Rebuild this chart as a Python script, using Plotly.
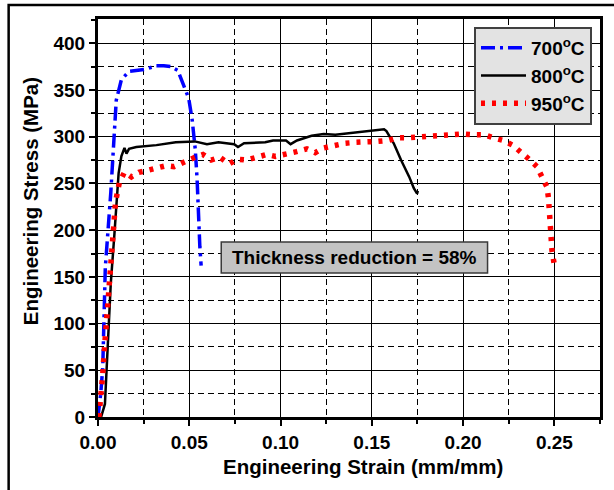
import plotly.graph_objects as go

# 700 °C
s700 = [0.0, 0.0015, 0.0026, 0.004, 0.007, 0.009, 0.010, 0.0128, 0.017, 0.0256, 0.032, 0.036, 0.040,
        0.0437, 0.047, 0.0497, 0.0516, 0.0533, 0.0543, 0.055, 0.0558, 0.0565]
t700 = [0, 25, 53, 160, 240, 307, 339, 361, 370, 372, 376, 376, 375,
        371, 354, 341, 318, 286, 254, 214, 182, 162]

# 800 °C
s800 = [0.0, 0.0017, 0.0038, 0.0053, 0.007, 0.009, 0.0107, 0.0113, 0.0128, 0.0145, 0.0156, 0.017,
        0.021, 0.032, 0.0426, 0.053, 0.0597, 0.066, 0.0746, 0.0767, 0.080, 0.0916, 0.0959, 0.103,
        0.1055, 0.109, 0.117, 0.1236, 0.130, 0.1385, 0.147, 0.1567, 0.158, 0.162, 0.166, 0.1705,
        0.173, 0.1748, 0.1752]
t800 = [0, 0, 14, 71, 143, 196, 239, 261, 279, 288, 282, 287,
        289, 291, 294, 295, 292, 294, 292, 289, 293, 294, 296, 296,
        292, 296, 301, 303, 302, 304, 306, 308, 306, 293, 275, 257,
        245, 239, 242]

# 950 °C
s950 = [0.0005, 0.0017, 0.0026, 0.0034, 0.0043, 0.0051, 0.0064, 0.0075, 0.0081, 0.009, 0.0096, 0.0117,
        0.0145, 0.0183, 0.0224, 0.0273, 0.0324, 0.0373, 0.0416, 0.0469, 0.052, 0.0575, 0.062, 0.0667,
        0.0718, 0.0763, 0.0814, 0.087, 0.0925, 0.0972, 0.1034, 0.1087, 0.1144, 0.119, 0.1236, 0.1294,
        0.1353, 0.1413, 0.147, 0.153, 0.1588, 0.1645, 0.1705, 0.176, 0.1822, 0.1882, 0.194, 0.1999,
        0.2059, 0.2118, 0.2163, 0.222, 0.2271, 0.2318, 0.2361, 0.2404, 0.2436, 0.246, 0.2468, 0.2472,
        0.2477, 0.2477, 0.2481, 0.2487, 0.2498]
t950 = [0, 21, 46, 70, 93, 125, 161, 184, 196, 218, 230, 251,
        262, 257, 262, 264, 267, 269, 268, 273, 277, 281, 275, 278,
        271, 276, 275, 278, 281, 279, 281, 284, 287, 283, 288, 291,
        293, 294, 294, 295, 296, 299, 299, 300, 301, 302, 302, 303,
        302, 302, 299, 296, 291, 284, 276, 268, 257, 246, 234, 223,
        211, 200, 189, 178, 165]

names = ["700<sup>o</sup>C", "800<sup>o</sup>C", "950<sup>o</sup>C"]
x_ticks = [0.0, 0.05, 0.10, 0.15, 0.20, 0.25]
y_ticks = [0, 50, 100, 150, 200, 250, 300, 350, 400]
x_title = "Engineering Strain (mm/mm)"
y_title = "Engineering Stress (MPa)"
note = "Thickness reduction = 58%"

FONT = "Liberation Sans, Arial, sans-serif"

fig = go.Figure()
fig.add_trace(go.Scatter(x=s700, y=t700, mode="lines", name=names[0],
                         line=dict(color="#0000ff", width=3.5, dash="14px,5px,3px,5px")))
fig.add_trace(go.Scatter(x=s800, y=t800, mode="lines", name=names[1],
                         line=dict(color="#000000", width=2.5)))
fig.add_trace(go.Scatter(x=s950, y=t950, mode="lines", name=names[2],
                         line=dict(color="#ff0000", width=5.5, dash="4px,7px")))

axis_common = dict(
    showline=True, linecolor="black", linewidth=3, mirror=True,
    ticks="outside", ticklen=6, tickwidth=2, tickcolor="black",
    showgrid=True, gridcolor="black", gridwidth=1.3,
    zeroline=False,
    tickfont=dict(family=FONT, size=19, color="black", weight="bold"),
)

fig.update_xaxes(
    range=[0, 0.275], tickvals=x_ticks, tickformat=".2f",
    minor=dict(dtick=0.025, tick0=0, ticks="outside", ticklen=4, tickwidth=1.5, tickcolor="black",
               showgrid=True, gridcolor="black", gridwidth=1, griddash="6px,4px"),
    **axis_common)
fig.update_yaxes(
    range=[0, 426], tickvals=y_ticks,
    minor=dict(dtick=25, tick0=0, ticks="outside", ticklen=4, tickwidth=1.5, tickcolor="black",
               showgrid=True, gridcolor="black", gridwidth=1, griddash="6px,4px"),
    **axis_common)

title_font = dict(family=FONT, size=20.5, color="black", weight="bold")
fig.add_annotation(xref="paper", yref="paper", x=0.527, y=-0.1256, text=x_title, showarrow=False,
                   xanchor="center", yanchor="middle", font=title_font)
fig.add_annotation(xref="paper", yref="paper", x=-0.1327, y=0.543, text=y_title, showarrow=False,
                   xanchor="center", yanchor="middle", textangle=-90, font=title_font)

# note box
fig.add_shape(type="rect", xref="paper", yref="paper", x0=0.2455, x1=0.776, y0=0.362, y1=0.44,
              fillcolor="#c3c3c3", line=dict(color="#3a3a3a", width=1.5), layer="above")
fig.add_annotation(xref="paper", yref="paper", x=0.511, y=0.401, text=note, showarrow=False,
                   xanchor="center", yanchor="middle",
                   font=dict(family=FONT, size=19, color="black", weight="bold"))

# outer frame
fig.add_shape(type="rect", xref="paper", yref="paper", x0=-0.178, x1=1.2, y0=-0.3, y1=1.035,
              line=dict(color="black", width=2.5), fillcolor="rgba(0,0,0,0)", layer="above")

fig.update_layout(
    width=614, height=490,
    margin=dict(l=98, r=11, t=19, b=73),
    paper_bgcolor="white", plot_bgcolor="white",
    showlegend=True,
    legend=dict(x=0.749, y=0.98, xanchor="left", yanchor="top",
                bgcolor="#e3e3e3", bordercolor="#404040", borderwidth=2,
                font=dict(family=FONT, size=19, color="black", weight="bold"),
                itemwidth=45, tracegroupgap=0),
)

fig.write_html("out.html")
